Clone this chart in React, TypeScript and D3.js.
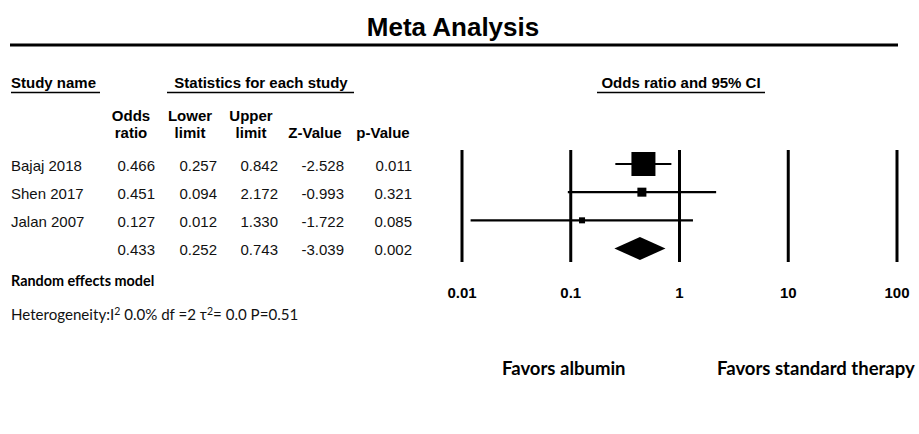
import { useEffect, useRef } from 'react';
import * as d3 from 'd3';

const STUDIES = ['Bajaj 2018', 'Shen 2017', 'Jalan 2007'];
const ODDS = [0.466, 0.451, 0.127];
const LOWER = [0.257, 0.094, 0.012];
const UPPER = [0.842, 2.172, 1.33];
const ZVALUES = [-2.528, -0.993, -1.722];
const PVALUES = [0.011, 0.321, 0.085];
const WEIGHTS = [83.1, 11.7, 5.2]; // relative weight (%), drives box size

const SUMMARY = [0.433, 0.252, 0.743, -3.039, 0.002]; // OR, lower, upper, Z, p

const TICKS = [0.01, 0.1, 1, 10, 100];
const TICK_LABELS = ['0.01', '0.1', '1', '10', '100'];

const HEAD1 = ['Odds', 'Lower', 'Upper', '', ''];
const HEAD2 = ['ratio', 'limit', 'limit', 'Z-Value', 'p-Value'];

const ARIAL = '"Liberation Sans", Arial, sans-serif';
const CALIBRI = 'Lato, "Open Sans", sans-serif';

export default function App() {
  const svgRef = useRef<SVGSVGElement>(null);

  useEffect(() => {
    const el = svgRef.current;
    if (!el) return;
    const W = 919;
    const H = 434;

    d3.select(el).selectAll('*').remove();
    const svg = d3.select(el).attr('width', W).attr('height', H);

    // Title + rule
    svg.append('text')
      .attr('x', 453).attr('y', 36)
      .attr('text-anchor', 'middle')
      .attr('font-family', ARIAL).attr('font-weight', 'bold').attr('font-size', 26)
      .text('Meta Analysis');
    svg.append('line')
      .attr('x1', 10).attr('x2', 898).attr('y1', 45).attr('y2', 45)
      .attr('stroke', '#000').attr('stroke-width', 3);

    // Section headers (underlined)
    const header = (txt: string, x: number, anchor: string, u1: number, u2: number) => {
      svg.append('text')
        .attr('x', x).attr('y', 88)
        .attr('text-anchor', anchor)
        .attr('font-family', ARIAL).attr('font-weight', 'bold').attr('font-size', 15)
        .text(txt);
      svg.append('line')
        .attr('x1', u1).attr('x2', u2).attr('y1', 92.5).attr('y2', 92.5)
        .attr('stroke', '#000').attr('stroke-width', 1.3);
    };
    header('Study name', 11, 'start', 11, 100);
    header('Statistics for each study', 261, 'middle', 167, 354);
    header('Odds ratio and 95% CI', 681, 'middle', 597, 765);

    // Table columns
    const colCenter = [131, 190, 251, 315, 383];
    const colRight = [155, 217, 278, 344, 412];

    colCenter.forEach((cx, i) => {
      [HEAD1[i], HEAD2[i]].forEach((t, li) => {
        if (!t) return;
        svg.append('text')
          .attr('x', cx).attr('y', 121 + li * 17)
          .attr('text-anchor', 'middle')
          .attr('font-family', ARIAL).attr('font-weight', 'bold').attr('font-size', 15)
          .text(t);
      });
    });

    const rowKeys = [...STUDIES, 'summary'];
    const y = d3.scalePoint<string>().domain(rowKeys).range([164, 248.5]);

    // plain hyphen for negatives, as in the source table
    const fmt = (v: number) => d3.format('.3f')(v).replace('\u2212', '-');
    const numText = (vals: number[], row: string) => {
      vals.forEach((v, i) => {
        svg.append('text')
          .attr('x', colRight[i]).attr('y', (y(row) ?? 0) + 6.5)
          .attr('text-anchor', 'end')
          .attr('font-family', ARIAL).attr('font-size', 15)
          .attr('fill', '#111')
          .text(fmt(v));
      });
    };

    STUDIES.forEach((s, i) => {
      svg.append('text')
        .attr('x', 11).attr('y', (y(s) ?? 0) + 6.5)
        .attr('font-family', ARIAL).attr('font-size', 15)
        .attr('fill', '#111')
        .text(s);
      numText([ODDS[i], LOWER[i], UPPER[i], ZVALUES[i], PVALUES[i]], s);
    });
    numText(SUMMARY, 'summary');

    svg.append('text')
      .attr('x', 11).attr('y', 286)
      .attr('font-family', CALIBRI).attr('font-weight', 'bold').attr('font-size', 14.4)
      .text('Random effects model');

    const het = svg.append('text')
      .attr('x', 11).attr('y', 320)
      .attr('font-family', CALIBRI).attr('font-size', 15.1)
      .attr('fill', '#111');
    het.append('tspan').text('Heterogeneity:I');
    het.append('tspan').attr('dy', -5).attr('font-size', 10.5).text('2');
    het.append('tspan').attr('dy', 5).text('\u00a00.0% df =2 \u03c4');
    het.append('tspan').attr('dy', -5).attr('font-size', 10.5).text('2');
    het.append('tspan').attr('dy', 5).text('= 0.0 P=0.51');

    // Forest plot
    const x = d3.scaleLog().domain([0.01, 100]).range([462, 897]);
    const yTop = 150;
    const yBot = 262;

    TICKS.forEach((t, i) => {
      svg.append('line')
        .attr('x1', x(t)).attr('x2', x(t))
        .attr('y1', yTop).attr('y2', yBot)
        .attr('stroke', '#000').attr('stroke-width', 3);
      svg.append('text')
        .attr('x', x(t)).attr('y', 298)
        .attr('text-anchor', 'middle')
        .attr('font-family', ARIAL).attr('font-weight', 'bold').attr('font-size', 15)
        .text(TICK_LABELS[i]);
    });

    const box = d3.scaleSqrt().domain([0, d3.max(WEIGHTS) ?? 1]).range([0, 24]);

    STUDIES.forEach((s, i) => {
      const cy = y(s) ?? 0;
      svg.append('line')
        .attr('x1', x(LOWER[i])).attr('x2', x(UPPER[i]))
        .attr('y1', cy).attr('y2', cy)
        .attr('stroke', '#000').attr('stroke-width', 2.2);
      const side = box(WEIGHTS[i]);
      svg.append('rect')
        .attr('x', x(ODDS[i]) - side / 2).attr('y', cy - side / 2)
        .attr('width', side).attr('height', side)
        .attr('fill', '#000');
    });

    // Summary diamond
    const sy = y('summary') ?? 0;
    const half = 11.5;
    const diamond = d3.line()([
      [x(SUMMARY[1]), sy],
      [x(SUMMARY[0]), sy - half],
      [x(SUMMARY[2]), sy],
      [x(SUMMARY[0]), sy + half],
    ]) + 'Z';
    svg.append('path').attr('d', diamond).attr('fill', '#000');

    // Direction labels
    svg.append('text')
      .attr('x', 502).attr('y', 375)
      .attr('font-family', CALIBRI).attr('font-weight', 'bold').attr('font-size', 18.5)
      .text('Favors albumin');
    svg.append('text')
      .attr('x', 717).attr('y', 375)
      .attr('font-family', CALIBRI).attr('font-weight', 'bold').attr('font-size', 18.5)
      .text('Favors standard therapy');
  }, []);

  return (
    <svg
      ref={svgRef}
      style={{ position: 'absolute', left: 0, top: 0, background: '#fff' }}
    />
  );
}
